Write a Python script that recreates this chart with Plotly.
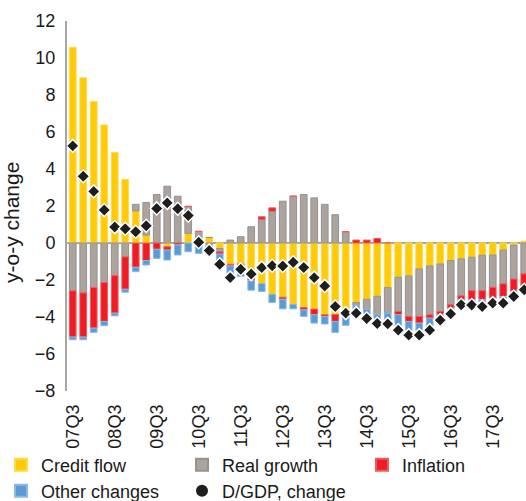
import plotly.graph_objects as go

quarters = [
    "07Q3", "07Q4", "08Q1", "08Q2", "08Q3", "08Q4", "09Q1", "09Q2", "09Q3", "09Q4",
    "10Q1", "10Q2", "10Q3", "10Q4", "11Q1", "11Q2", "11Q3", "11Q4", "12Q1", "12Q2",
    "12Q3", "12Q4", "13Q1", "13Q2", "13Q3", "13Q4", "14Q1", "14Q2", "14Q3", "14Q4",
    "15Q1", "15Q2", "15Q3", "15Q4", "16Q1", "16Q2", "16Q3", "16Q4", "17Q1", "17Q2",
    "17Q3", "17Q4", "18Q1", "18Q2",
]
tick_labels = ["07Q3", "08Q3", "09Q3", "10Q3", "11Q3", "12Q3", "13Q3", "14Q3", "15Q3", "16Q3", "17Q3"]

credit_flow = [
    10.58, 8.93, 7.65, 6.38, 4.89, 3.43, 1.73, 0.43, 0.0, -0.20,
    0.0, 0.52, 0.0, 0.30, -0.30, -1.15, -1.13, -1.90, -2.19, -2.77,
    -2.93, -3.31, -3.49, -3.57, -3.88, -3.87, -3.80, -3.22, -3.04, -2.88,
    -2.41, -1.85, -1.78, -1.40, -1.24, -1.13, -0.95, -0.86, -0.77, -0.66,
    -0.65, -0.38, -0.12, 0.10,
]
real_growth = [
    -2.59, -2.70, -2.41, -2.14, -1.76, -0.75, 0.36, 1.76, 2.62, 3.07,
    2.53, 1.46, 0.63, 0.0, -0.18, 0.16, 0.34, 0.88, 1.28, 1.72,
    2.26, 2.53, 2.62, 2.44, 2.09, 1.53, 0.61, -0.15, -0.54, -1.00,
    -1.38, -1.85, -2.19, -2.57, -2.64, -2.57, -2.39, -2.00, -1.81, -1.92,
    -1.75, -1.83, -1.83, -1.67,
]
inflation = [
    -2.49, -2.38, -2.19, -2.10, -2.03, -1.75, -1.31, -0.95, -0.34, -0.18,
    -0.10, 0.0, 0.0, -0.05, -0.12, -0.09, -0.10, -0.13, 0.14, 0.18,
    -0.11, 0.0, -0.12, -0.31, -0.09, -0.37, 0.0, 0.16, 0.16, 0.25,
    0.0, -0.18, -0.27, -0.36, -0.18, -0.18, -0.18, -0.20, -0.48, -0.47,
    -0.58, -0.68, -0.65, -0.68,
]
other_changes = [
    -0.15, -0.15, -0.23, -0.23, -0.15, -0.16, -0.24, -0.24, -0.49, -0.54,
    -0.55, -0.47, -0.56, -0.60, -0.33, -0.43, -0.58, -0.52, -0.43, -0.45,
    -0.52, -0.25, -0.36, -0.45, -0.41, -0.59, -0.65, -0.24, -0.27, -0.25,
    -0.36, -0.59, -0.49, -0.42, -0.47, -0.12, -0.11, -0.14, -0.14, -0.15,
    -0.12, -0.13, -0.14, -0.09,
]
dgdp_change = [
    5.25, 3.61, 2.79, 1.78, 0.86, 0.77, 0.61, 0.93, 1.87, 2.17,
    1.85, 1.49, 0.04, -0.41, -1.15, -1.87, -1.42, -1.68, -1.33, -1.23,
    -1.24, -1.04, -1.32, -1.87, -2.32, -3.43, -3.79, -3.79, -4.08, -4.35,
    -4.37, -4.71, -4.98, -4.98, -4.71, -4.17, -3.83, -3.34, -3.35, -3.44,
    -3.25, -3.25, -2.89, -2.53,
]

FONT = "Liberation Sans, Arial, sans-serif"
FS = 18

fig = go.Figure()
bar_specs = [
    ("Credit flow", credit_flow, "#FFCA08", "#FFD94A", "legend"),
    ("Real growth", real_growth, "#ADA39D", "#939393", "legend2"),
    ("Inflation", inflation, "#EE1D25", "#F25A5F", "legend3"),
    ("Other changes", other_changes, "#5B9BD5", "#8DB9E3", "legend4"),
]
for name, vals, fill, edge, lg in bar_specs:
    fig.add_trace(go.Bar(
        x=quarters, y=vals, name=name, legend=lg,
        marker=dict(color=fill, line=dict(color=edge, width=1)),
    ))

fig.add_trace(go.Scatter(
    x=quarters, y=dgdp_change, mode="markers", name="D/GDP, change",
    showlegend=False,
    marker=dict(symbol="diamond", size=10, color="#1E1E1E",
                line=dict(color="white", width=1.5)),
))
fig.add_trace(go.Scatter(
    x=[None], y=[None], mode="markers", name="D/GDP, change", legend="legend5",
    marker=dict(symbol="circle", size=3, color="#1E1E1E"),
))

PW = 459.0
def lx(px):
    return (px - 67.0) / PW

def ly(py):
    return (391.0 - py) / 370.0

def leg(px, py):
    return dict(x=lx(px), y=ly(py), xanchor="left", yanchor="middle",
                orientation="v", font=dict(size=FS), bgcolor="rgba(0,0,0,0)",
                itemsizing="constant")

fig.update_layout(
    width=526, height=501,
    barmode="relative", bargap=0.36,
    plot_bgcolor="white", paper_bgcolor="white",
    margin=dict(l=67, r=0, t=21, b=110, autoexpand=False),
    font=dict(family=FONT, size=FS, color="#1A1A1A"),
    legend=leg(1, 465),
    legend2=leg(182, 465),
    legend3=leg(362, 465),
    legend4=leg(1, 491),
    legend5=leg(182, 491),
    xaxis=dict(
        type="category", range=[-0.545, 43.17],
        tickvals=tick_labels, ticktext=tick_labels, tickangle=-90,
        showgrid=False, showline=False, zeroline=False, ticks="",
        ticklabelstandoff=9,
    ),
    yaxis=dict(
        range=[-8, 12], dtick=2, showgrid=False,
        showline=True, linecolor="#A6A6A6", linewidth=2,
        zeroline=True, zerolinecolor="#A6A6A6", zerolinewidth=2,
        ticks="", ticklen=0, ticklabelstandoff=6,
    ),
    annotations=[dict(
        text="y-o-y change", textangle=-90, showarrow=False,
        xref="paper", yref="paper", x=lx(11), y=ly(223),
        xanchor="center", yanchor="middle", font=dict(size=21),
    )],
)

fig.write_html("out.html", post_script="document.body.style.margin='0';",
               config={"displayModeBar": False})
